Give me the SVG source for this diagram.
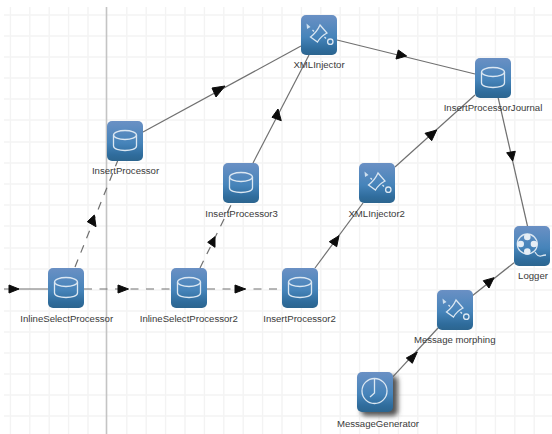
<svg xmlns="http://www.w3.org/2000/svg" width="552" height="434" viewBox="0 0 552 434">
<style>
.g{stroke:#f3f3f3;stroke-width:1.4;fill:none}
.c{stroke:#707070;stroke-width:1.2;fill:none}
.d{stroke-dasharray:8 7.500}
.a{fill:#0c0c0c;stroke:#0c0c0c;stroke-width:1}
.t{font:9.600px "Liberation Sans",Arial,sans-serif;fill:#3a3a3a;text-anchor:middle}
.i{fill:none;stroke:#dbe7f2;stroke-width:1.3}
</style>
<defs>
<linearGradient id="b" x1="0" y1="0" x2="0" y2="1"><stop offset="0" stop-color="#6a90c4"/><stop offset=".55" stop-color="#4684ba"/><stop offset=".85" stop-color="#2f6c9c"/><stop offset="1" stop-color="#2c658f"/></linearGradient>
<filter id="s" x="-30%" y="-30%" width="170%" height="170%"><feGaussianBlur stdDeviation="2.500"/></filter>
<rect id="box" width="36" height="40" rx="5" fill="url(#b)"/>
<g id="db"><ellipse cx="18" cy="14" rx="11.500" ry="4.500" class="i"/><path d="M6.500 14V25C6.500 31 29.500 31 29.500 25V14" class="i"/></g>
<g id="xf"><path d="M5.500 8.500l4 3.500-3.500 2z" fill="#cfe0ef"/><path d="M19 10L26 18Q20 21 16.500 27L9.500 22Q16 17 19 10Z" class="i"/><circle cx="29.300" cy="26.700" r="2.700" class="i"/><path d="M11.500 15l1.500 1.500M23.500 22l1.500 1.500" class="i"/></g>
</defs>
<rect width="552" height="434" fill="#fff"/>
<g id="grid">
<path class="g" d="M10.400 7V434M29.800 7V434M49.200 7V434M68.600 7V434M88 7V434M126.800 7V434M146.200 7V434M165.600 7V434M185 7V434M204.400 7V434M223.800 7V434M243.200 7V434M262.600 7V434M282 7V434M301.400 7V434M320.800 7V434M340.200 7V434M359.600 7V434M379 7V434M398.400 7V434M417.800 7V434M437.200 7V434M456.600 7V434M476 7V434M495.400 7V434M514.800 7V434M534.200 7V434"/>
<path class="g" d="M4 15H552M4 36H552M4 57H552M4 78H552M4 99H552M4 120H552M4 142H552M4 163H552M4 184H552M4 205H552M4 226H552M4 248H552M4 269H552M4 290H552M4 311H552M4 332H552M4 353H552M4 374H552M4 395H552M4 416H552"/>
<path d="M106.500 7V434" stroke="#c4c4c4" stroke-width="1.600"/>
</g>
<g id="connectors">
<path class="c" d="M4 289H48"/>
<path class="c d" d="M84 289H171"/>
<path class="c d" d="M207 289H282"/>
<path class="c d" d="M75 267L118 160"/>
<path class="c d" d="M200 268L232 203"/>
<path class="c" d="M143 132L301 46"/>
<path class="c" d="M253 163L309 55"/>
<path class="c" d="M337 40L475 74"/>
<path class="c" d="M315 268L363 203"/>
<path class="c" d="M395 167L475 95"/>
<path class="c" d="M498 97L527.700 227"/>
<path class="c" d="M472 296L514 262.700"/>
<path class="c" d="M393 376.700L438 328"/>
<path class="a" d="M19 289L9 285V293Z"/>
<path class="a" d="M128.500 289L118 285V293Z"/>
<path class="a" d="M245.500 289L235 285V293Z"/>
<path class="a" d="M94.300 215L87.300 221.700L96 226.700Z"/>
<path class="a" d="M215 236.700L207.700 242.300L215 247.300Z"/>
<path class="a" d="M225 86L212 88L216 97Z"/>
<path class="a" d="M278 109L272 117.300L281.300 120.700Z"/>
<path class="a" d="M406.700 56L398.300 50L396 59Z"/>
<path class="a" d="M339 235.700L329.300 241.700L336.700 246.700Z"/>
<path class="a" d="M436.700 130L425 133.300L431.700 140.700Z"/>
<path class="a" d="M512.700 161L506.700 152.700L515.300 151.300Z"/>
<path class="a" d="M494 277.700L483.300 280.700L489 288Z"/>
<path class="a" d="M417.300 352L406.300 358L412.300 363.300Z"/>
</g>
<g id="InlineSelectProcessor"><use href="#box" x="48" y="268"/><use href="#db" x="48" y="268"/><text class="t" x="66.700" y="322">InlineSelectProcessor</text></g>
<g id="InlineSelectProcessor2"><use href="#box" x="171" y="268"/><use href="#db" x="171" y="268"/><text class="t" x="188.800" y="322">InlineSelectProcessor2</text></g>
<g id="InsertProcessor2"><use href="#box" x="282" y="268"/><use href="#db" x="282" y="268"/><text class="t" x="299.500" y="322">InsertProcessor2</text></g>
<g id="InsertProcessor"><use href="#box" x="107" y="121"/><use href="#db" x="107" y="121"/><text class="t" x="125.500" y="174">InsertProcessor</text></g>
<g id="InsertProcessor3"><use href="#box" x="223" y="163"/><use href="#db" x="223" y="163"/><text class="t" x="241.600" y="216.500">InsertProcessor3</text></g>
<g id="XMLInjector"><use href="#box" x="301" y="15"/><use href="#xf" x="301" y="15"/><text class="t" x="319" y="68">XMLInjector</text></g>
<g id="XMLInjector2"><use href="#box" x="359" y="163"/><use href="#xf" x="359" y="163"/><text class="t" x="376.700" y="216.500">XMLInjector2</text></g>
<g id="InsertProcessorJournal"><use href="#box" x="475" y="58"/><use href="#db" x="475" y="58"/><text class="t" x="493" y="110.700">InsertProcessorJournal</text></g>
<g id="Logger"><use href="#box" x="514" y="226"/><circle cx="527.300" cy="244" r="10" class="i"/><circle cx="527.300" cy="237" r="3.300" fill="#e6eef6"/><circle cx="527.300" cy="251.500" r="3.300" fill="#e6eef6"/><circle cx="520.700" cy="244" r="3.300" fill="#e6eef6"/><circle cx="534" cy="244" r="3.300" fill="#e6eef6"/><path d="M535 252q3 5 6 4t5-1" class="i"/><text class="t" x="533" y="279">Logger</text></g>
<g id="Message_morphing"><use href="#box" x="437" y="290"/><use href="#xf" x="437" y="290"/><text class="t" x="454.700" y="343">Message morphing</text></g>
<g id="MessageGenerator"><rect x="361" y="376" width="37" height="40" rx="5" fill="#555" filter="url(#s)"/><use href="#box" x="357" y="372"/><circle cx="374.500" cy="391" r="12.500" class="i"/><path d="M374.500 379V393L370 397" class="i"/><text class="t" x="378" y="427">MessageGenerator</text></g>
</svg>
